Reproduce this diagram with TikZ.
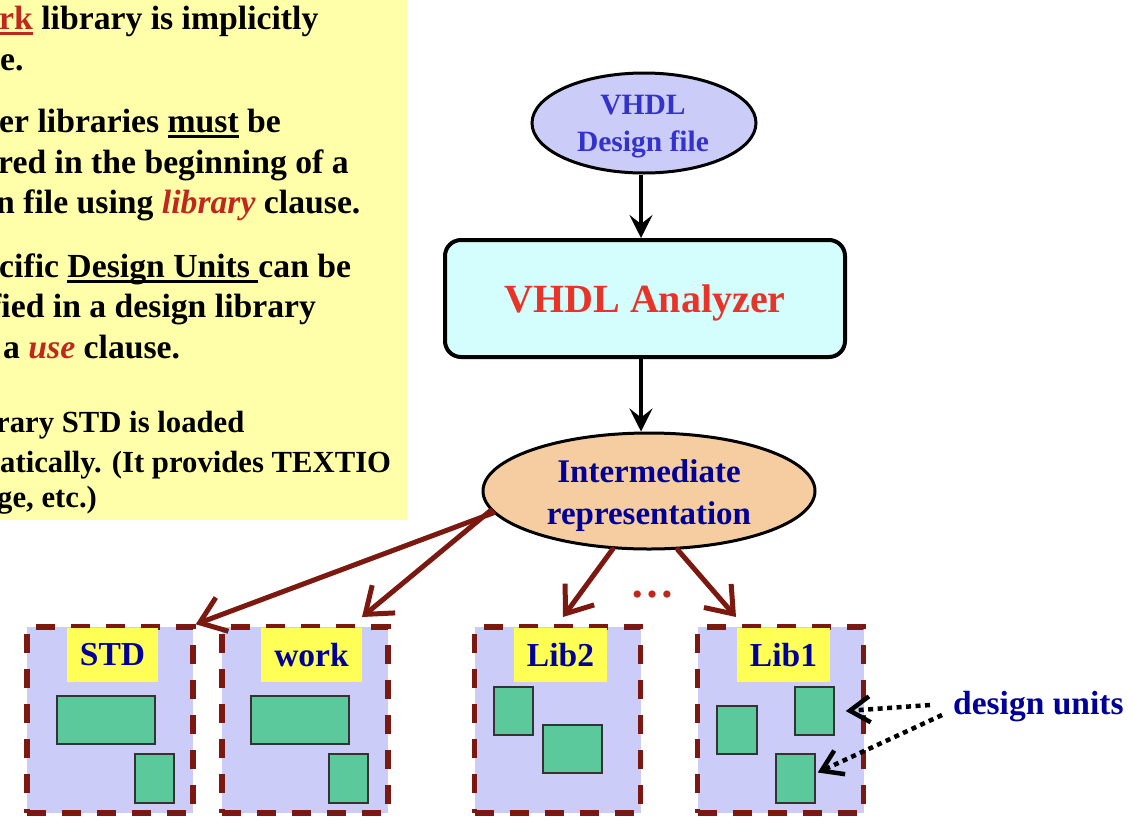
\documentclass[tikz,border=0pt]{standalone}
\usepackage{fontspec}
\setmainfont{Liberation Serif}
\usetikzlibrary{shapes.geometric,arrows.meta}
\definecolor{yellowbg}{HTML}{FFFFAA}
\definecolor{libred}{HTML}{C0281E}
\definecolor{lav}{HTML}{CCCCF8}
\definecolor{anacyan}{HTML}{D4FEFE}
\definecolor{peach}{HTML}{F6CDA0}
\definecolor{dkblue}{HTML}{000099}
\definecolor{medblue}{HTML}{3333CC}
\definecolor{anared}{HTML}{E83428}
\definecolor{arrred}{HTML}{7B1810}
\definecolor{unitgreen}{HTML}{5CC99C}
\definecolor{lblyellow}{HTML}{FFFF55}
\newcommand\myul[1]{\setbox0\hbox{#1}\rlap{\rule[-6pt]{\wd0}{2.6pt}}\box0{}}
\begin{document}
\begin{tikzpicture}[x=1pt,y=-1pt,
  txt/.style={anchor=base west,inner sep=0pt,font=\fontsize{33.7}{41}\selectfont\bfseries},
  txtsmall/.style={anchor=base west,inner sep=0pt,font=\fontsize{30.7}{40}\selectfont\bfseries},
  fileell/.style={ellipse,draw,line width=3pt,fill=lav,minimum width=224pt,minimum height=100pt,inner sep=0pt},
  filetext/.style={inner sep=0pt,align=center,font=\fontsize{29.5}{37}\selectfont\bfseries,text=medblue},
  anabox/.style={rectangle,draw,line width=4pt,rounded corners=16pt,fill=anacyan,minimum width=400pt,minimum height=117pt,inner sep=0pt},
  anatext/.style={inner sep=0pt,font=\fontsize{40}{48}\selectfont\bfseries,text=anared},
  interell/.style={ellipse,draw,line width=3pt,fill=peach,minimum width=332pt,minimum height=116pt,inner sep=0pt},
  intertext/.style={inner sep=0pt,align=center,font=\fontsize{33}{42}\selectfont\bfseries,text=dkblue},
  libbox/.style={rectangle,draw=arrred,line width=5.5pt,dash pattern=on 19pt off 16pt,fill=lav,minimum width=166pt,minimum height=186pt,inner sep=0pt},
  liblabel/.style={rectangle,fill=lblyellow,minimum height=54pt,inner sep=0pt,font=\fontsize{33.5}{40}\selectfont\bfseries,text=dkblue},
  unit/.style={rectangle,draw=black!80,line width=1.5pt,fill=unitgreen,inner sep=0pt},
  blackarrow/.style={line width=4pt,-{Stealth[length=23pt,width=23pt,inset=9pt]}},
  redarrow/.style={draw=arrred,line width=5pt,line cap=round,-{Straight Barb[length=24pt,width=36pt]}},
  dotarrow/.style={line width=4.5pt,dash pattern=on 5pt off 4.5pt,-{Straight Barb[length=20pt,width=26pt]}},
  dutext/.style={anchor=base west,inner sep=0pt,font=\fontsize{33.5}{40}\selectfont\bfseries,text=dkblue}
]
\useasboundingbox (0,0) rectangle (1132,828);
% yellow text panel
\fill[yellowbg] (0,0) rectangle (407,520);
\node[txt] (t1) at (-1,29) {\textcolor{libred}{\myul{rk}} library is implicitly};
\node[txt] (t2) at (0,70) {e.};
\node[txt] (t3) at (-1,132) {er libraries \myul{must} be};
\node[txt] (t4) at (-2,173) {red in the beginning of a};
\node[txt] (t5) at (-4,213) {n file using \textcolor{libred}{\itshape library} clause.};
\node[txt] (t6) at (-1,277) {cific \myul{Design Units\ }can be};
\node[txt] (t7) at (-10,317) {fied in a design library};
\node[txt] (t8) at (3,358) {a \textcolor{libred}{\itshape use} clause.};
\node[txtsmall] (t9) at (-4,432) {rary STD is loaded};
\node[txtsmall] (t10) at (0,472) {atically. (It provides TEXTIO};
\node[txtsmall] (t11) at (-3,507) {ge, etc.)};
% flow
\node[fileell] (file) at (644,123) {};
\node[filetext] (filet) at (643,127) {VHDL\\Design file};
\node[anabox] (ana) at (645,298.5) {};
\node[anatext] (anat) at (645,303) {VHDL Analyzer};
\node[interell] (inter) at (649,491) {};
\node[intertext] (intert) at (649,496) {Intermediate\\representation};
\draw[blackarrow] ([xshift=-3pt]file.south) -- ([xshift=-3pt]file.south |- ana.north);
\draw[blackarrow] ([xshift=-4pt]ana.south) -- ([xshift=-4pt]ana.south |- inter.north);
% libraries
\node[libbox] (std) at (110,720) {};
\node[libbox] (work) at (305,720) {};
\node[libbox] (lib2) at (557.5,720) {};
\node[libbox] (lib1) at (780.5,720) {};
\node[liblabel,minimum width=91pt] (stdl) at (112.5,655) {STD};
\node[liblabel,minimum width=101pt] (workl) at (311.5,655) {work};
\node[liblabel,minimum width=93pt] (lib2l) at (560.5,655) {Lib2};
\node[liblabel,minimum width=93pt] (lib1l) at (783.5,655) {Lib1};
% design units
\node[unit,minimum width=98pt,minimum height=48pt] (sa) at (106,720) {};
\node[unit,minimum width=39pt,minimum height=49pt] (sb) at (154.5,778.5) {};
\node[unit,minimum width=98pt,minimum height=48pt] (wa) at (300,720) {};
\node[unit,minimum width=39pt,minimum height=49pt] (wb) at (348.5,778.5) {};
\node[unit,minimum width=39pt,minimum height=48pt] (l2a) at (513.5,711) {};
\node[unit,minimum width=59pt,minimum height=48pt] (l2b) at (572.5,749) {};
\node[unit,minimum width=40pt,minimum height=48pt] (l1a) at (737,730) {};
\node[unit,minimum width=39pt,minimum height=48pt] (l1b) at (814.5,711) {};
\node[unit,minimum width=39pt,minimum height=49pt] (l1c) at (795.5,778.5) {};
% red arrows
\coordinate (worktip) at (362,617);
\coordinate (lib2tip) at (563,617);
\coordinate (lib1tip) at (736,617);
\draw[redarrow] (inter.188) -- (std.north east);
\draw[redarrow] (inter.187) -- (worktip);
\draw[redarrow] (inter.238) -- (lib2tip);
\draw[redarrow] (inter.296) -- (lib1tip);
\node[anchor=base,inner sep=0pt,text=libred,font=\fontsize{44}{44}\selectfont\bfseries] (dots) at (652,597) {…};
% design units label
\node[dutext] (du) at (953,714) {design units};
\coordinate (d1) at (930,705);
\coordinate (d2) at (942,715);
\draw[dotarrow] (d1) -- ([xshift=11pt]l1b.east);
\draw[dotarrow] (d2) -- ([xshift=2pt,yshift=6pt]l1c.east);
\end{tikzpicture}
\end{document}
